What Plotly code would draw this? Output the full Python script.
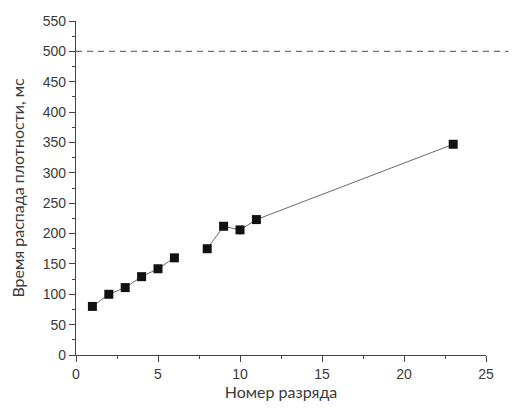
import plotly.graph_objects as go

discharge_no = [1, 2, 3, 4, 5, 6, None, 8, 9, 10, 11, 23]
decay_time_ms = [80, 100, 111, 129, 142, 160, None, 175, 212, 206, 223, 347]
threshold_ms = 500
x_ticks = [0, 5, 10, 15, 20, 25]
y_ticks = [0, 50, 100, 150, 200, 250, 300, 350, 400, 450, 500, 550]

fig = go.Figure()
fig.add_trace(go.Scatter(
    x=discharge_no, y=decay_time_ms, mode="lines+markers",
    line=dict(color="#6a6a6a", width=1),
    marker=dict(symbol="square", size=9, color="#111111"),
    connectgaps=False, showlegend=False, cliponaxis=False,
))
fig.add_shape(type="line", xref="paper", yref="y", x0=0, x1=1.055,
              y0=threshold_ms, y1=threshold_ms,
              line=dict(color="#707070", width=1.2, dash="6px,5px"))

tickfont = dict(family="Liberation Sans, Arial", size=14, color="#3a3a3a")
titlefont = dict(family="Lato, Open Sans", size=16, color="#3a3a3a")
fig.update_xaxes(range=[0, 25], tickvals=x_ticks, showline=True, linecolor="#444",
                 linewidth=1.2, ticks="outside", ticklen=6, tickcolor="#444",
                 minor=dict(dtick=2.5, ticks="outside", ticklen=3, tickcolor="#444"),
                 showgrid=False, zeroline=False, tickfont=tickfont, automargin=False,
                 title=dict(text="Номер разряда", font=titlefont, standoff=4))
fig.update_yaxes(range=[0, 550], tickvals=y_ticks, showline=True, linecolor="#444",
                 linewidth=1.2, ticks="outside", ticklen=6, tickcolor="#444",
                 minor=dict(dtick=25, ticks="outside", ticklen=3, tickcolor="#444"),
                 showgrid=False, zeroline=False, tickfont=tickfont, automargin=False,
                 title=dict(text="Время распада плотности, мс", font=titlefont, standoff=16))
fig.update_layout(width=512, height=406, margin=dict(l=68, r=34, t=13, b=59),
                  paper_bgcolor="white", plot_bgcolor="white")
fig.write_html("out.html")
